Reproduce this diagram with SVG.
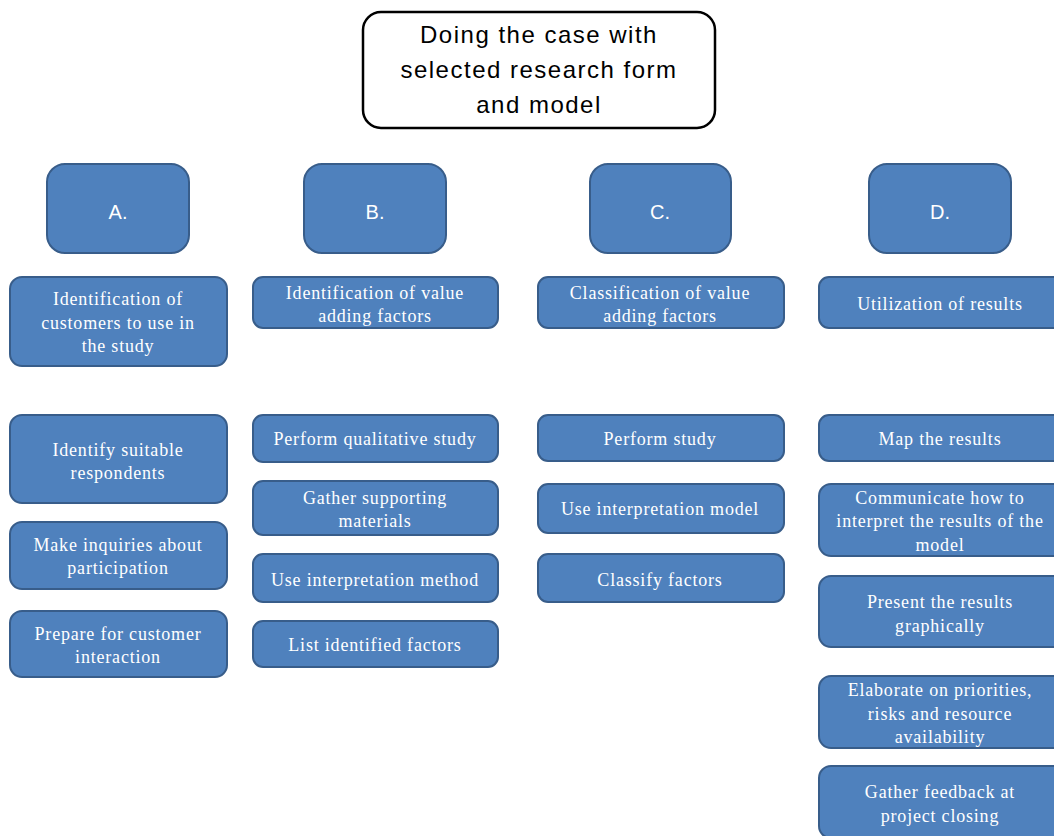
<svg xmlns="http://www.w3.org/2000/svg" width="1054" height="836" viewBox="0 0 1054 836">
<style>
.bx{fill:#4F81BD;stroke:#385D8A;stroke-width:2}
.hd{fill:#4F81BD;stroke:#385D8A;stroke-width:2}
.t{font-family:"Liberation Serif",serif;font-size:18px;letter-spacing:0.8px;fill:#fff;text-anchor:middle}
.h{font-family:"Liberation Sans",sans-serif;font-size:20px;fill:#fff;text-anchor:middle}
.tt{font-family:"Liberation Sans",sans-serif;font-size:24px;letter-spacing:1.5px;fill:#000;text-anchor:middle}
</style>
<rect width="1054" height="836" fill="#fff"/>
<g id="title">
<rect x="363" y="12" width="352" height="116" rx="18" fill="#fff" stroke="#000" stroke-width="2.5"/>
<text class="tt" x="539" y="43">Doing the case with</text>
<text class="tt" x="539" y="78">selected research form</text>
<text class="tt" x="539" y="113">and model</text>
</g>
<g id="connectors"></g>
<g id="hA"><rect class="hd" x="47" y="164" width="142" height="89" rx="18"/><text class="h" x="118" y="219">A.</text></g>
<g id="hB"><rect class="hd" x="304" y="164" width="142" height="89" rx="18"/><text class="h" x="375" y="219">B.</text></g>
<g id="hC"><rect class="hd" x="590" y="164" width="141" height="89" rx="18"/><text class="h" x="660" y="219">C.</text></g>
<g id="hD"><rect class="hd" x="869" y="164" width="142" height="89" rx="18"/><text class="h" x="940" y="219">D.</text></g>

<g id="a1"><rect class="bx" x="10" y="277" width="217" height="89" rx="12"/><text class="t" x="118" y="305">Identification of</text><text class="t" x="118" y="329">customers to use in</text><text class="t" x="118" y="352">the study</text></g>
<g id="a2"><rect class="bx" x="10" y="415" width="217" height="88" rx="12"/><text class="t" x="118" y="456">Identify suitable</text><text class="t" x="118" y="479">respondents</text></g>
<g id="a3"><rect class="bx" x="10" y="522" width="217" height="67" rx="12"/><text class="t" x="118" y="551">Make inquiries  about</text><text class="t" x="118" y="574">participation</text></g>
<g id="a4"><rect class="bx" x="10" y="611" width="217" height="66" rx="12"/><text class="t" x="118" y="640">Prepare for customer</text><text class="t" x="118" y="663">interaction</text></g>

<g id="b1"><rect class="bx" x="253" y="277" width="245" height="51" rx="10"/><text class="t" x="375" y="299">Identification of value</text><text class="t" x="375" y="322">adding factors</text></g>
<g id="b2"><rect class="bx" x="253" y="415" width="245" height="47" rx="10"/><text class="t" x="375" y="445">Perform qualitative study</text></g>
<g id="b3"><rect class="bx" x="253" y="481" width="245" height="54" rx="10"/><text class="t" x="375" y="504">Gather supporting</text><text class="t" x="375" y="527">materials</text></g>
<g id="b4"><rect class="bx" x="253" y="554" width="245" height="48" rx="10"/><text class="t" x="375" y="586">Use interpretation method</text></g>
<g id="b5"><rect class="bx" x="253" y="621" width="245" height="46" rx="10"/><text class="t" x="375" y="651">List identified factors</text></g>

<g id="c1"><rect class="bx" x="538" y="277" width="246" height="51" rx="10"/><text class="t" x="660" y="299">Classification of value</text><text class="t" x="660" y="322">adding  factors</text></g>
<g id="c2"><rect class="bx" x="538" y="415" width="246" height="46" rx="10"/><text class="t" x="660" y="445">Perform study</text></g>
<g id="c3"><rect class="bx" x="538" y="484" width="246" height="49" rx="10"/><text class="t" x="660" y="515">Use interpretation model</text></g>
<g id="c4"><rect class="bx" x="538" y="554" width="246" height="48" rx="10"/><text class="t" x="660" y="586">Classify factors</text></g>

<g id="d1"><rect class="bx" x="819" y="277" width="246" height="51" rx="10"/><text class="t" x="940" y="310">Utilization of results</text></g>
<g id="d2"><rect class="bx" x="819" y="415" width="246" height="46" rx="10"/><text class="t" x="940" y="445">Map the results</text></g>
<g id="d3"><rect class="bx" x="819" y="484" width="246" height="72" rx="12"/><text class="t" x="940" y="504">Communicate  how to</text><text class="t" x="940" y="527">interpret the results of the</text><text class="t" x="940" y="551">model</text></g>
<g id="d4"><rect class="bx" x="819" y="576" width="246" height="71" rx="12"/><text class="t" x="940" y="608">Present the results</text><text class="t" x="940" y="632">graphically</text></g>
<g id="d5"><rect class="bx" x="819" y="676" width="246" height="72" rx="12"/><text class="t" x="940" y="696">Elaborate on priorities,</text><text class="t" x="940" y="720">risks and resource</text><text class="t" x="940" y="743">availability</text></g>
<g id="d6"><rect class="bx" x="819" y="766" width="246" height="72" rx="12"/><text class="t" x="940" y="798">Gather feedback at</text><text class="t" x="940" y="822">project closing</text></g>
</svg>
